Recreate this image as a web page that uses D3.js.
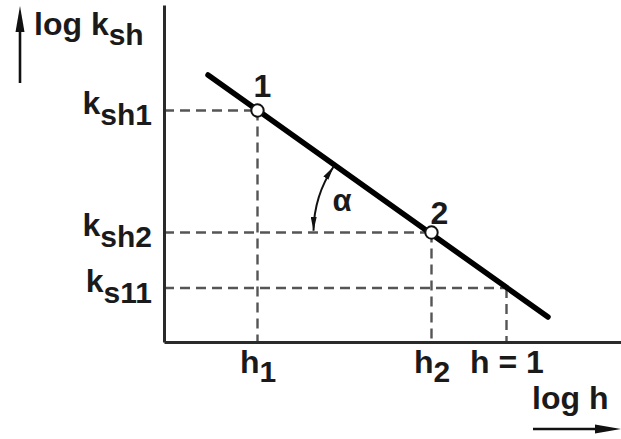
<!DOCTYPE html>
<html><head><meta charset="utf-8">
<script src="https://cdn.jsdelivr.net/npm/d3@7"></script>
<style>
html,body{margin:0;padding:0;background:#fff;}
svg{display:block;}
text{font-family:"Liberation Sans",Arial,Helvetica,sans-serif;fill:#1a1a1a;font-weight:bold;}
</style></head><body>
<svg id="chart" width="621" height="439"></svg>
<script>
// log h positions marked on the abscissa
const hTicks = [1.87, 5.35, 6.85];
const hMain = ["h", "h", "h = 1"];
const hSub = ["1", "2", ""];
// log k_sh values marked on the ordinate
const kTicks = [4.63, 2.19, 1.08];
const kMain = ["k", "k", "k"];
const kSub = ["sh1", "sh2", "s11"];
// straight line log k_sh = f(log h), end points
const lineLogH = [0.88, 7.68];
const lineLogK = [5.34, 0.50];
// measured points 1 and 2
const pointLogH = [1.87, 5.35];
const pointLogK = [4.63, 2.19];
const pointNames = ["1", "2"];
// value of the line at h = 1
const unitLogH = 6.85, unitLogK = 1.08;

const svg = d3.select("#chart");
const x = d3.scaleLinear().domain([0, 9.14]).range([164, 621]);
const y = d3.scaleLinear().domain([0, 6.74]).range([342, 5]);
const FS = 32, SFS = 30;

// dashed reference lines
const dash = svg.append("g")
  .attr("stroke", "#555").attr("stroke-width", 2.4)
  .attr("stroke-dasharray", "10,6").attr("fill", "none");
const refH = [pointLogH[0], pointLogH[1], unitLogH];
const refK = [pointLogK[0], pointLogK[1], unitLogK];
refH.forEach((h, i) => {
  dash.append("line")
    .attr("x1", x(0)).attr("x2", x(h))
    .attr("y1", y(refK[i])).attr("y2", y(refK[i]));
  dash.append("line")
    .attr("x1", x(h)).attr("x2", x(h))
    .attr("y1", y(refK[i])).attr("y2", y(0));
});

// axes
const xAxis = d3.axisBottom(x).tickValues(hTicks).tickSize(0).tickSizeOuter(0).tickFormat(() => "");
const yAxis = d3.axisLeft(y).tickValues(kTicks).tickSize(0).tickSizeOuter(0).tickFormat(() => "");
const gx = svg.append("g").attr("transform", `translate(0,${y(0)})`).call(xAxis);
const gy = svg.append("g").attr("transform", `translate(${x(0)},0)`).call(yAxis);
[gx, gy].forEach(g => {
  g.select(".domain").attr("stroke", "#2a2a2a").attr("stroke-width", 3);
  g.attr("font-family", null).attr("font-size", null);
});

gx.selectAll(".tick text").each(function(d, i) {
  const t = d3.select(this).text("")
    .attr("y", 31).attr("dy", null)
    .attr("text-anchor", "middle").style("font-size", FS + "px");
  t.append("tspan").text(hMain[i]);
  if (hSub[i]) t.append("tspan").attr("dy", 9).style("font-size", SFS + "px").text(hSub[i]);
});
gy.selectAll(".tick text").each(function(d, i) {
  const t = d3.select(this).text("")
    .attr("x", -12).attr("dy", null).attr("y", 3)
    .attr("text-anchor", "end").style("font-size", FS + "px");
  t.append("tspan").text(kMain[i]);
  t.append("tspan").attr("dy", 11).style("font-size", SFS + "px").text(kSub[i]);
});

// axis titles with arrows
const tY = svg.append("text").attr("x", 34).attr("y", 35).style("font-size", FS + "px");
tY.append("tspan").text("log k");
tY.append("tspan").attr("dy", 10).style("font-size", SFS + "px").text("sh");
svg.append("text").attr("x", 532).attr("y", 409).style("font-size", FS + "px").text("log h");

svg.append("line").attr("x1", 20).attr("x2", 20).attr("y1", 83).attr("y2", 24)
  .attr("stroke", "#111").attr("stroke-width", 2.6);
svg.append("path").attr("d", "M20,6 L24.5,32 L15.5,32 Z").attr("fill", "#111");
svg.append("line").attr("x1", 533).attr("x2", 602).attr("y1", 429).attr("y2", 429)
  .attr("stroke", "#111").attr("stroke-width", 2.6);
svg.append("path").attr("d", "M621,429 L595,424.5 L595,433.5 Z").attr("fill", "#111");

// main straight line
svg.append("line")
  .attr("x1", x(lineLogH[0])).attr("y1", y(lineLogK[0]))
  .attr("x2", x(lineLogH[1])).attr("y2", y(lineLogK[1]))
  .attr("stroke", "#000").attr("stroke-width", 5.5).attr("stroke-linecap", "round");

// angle alpha between the line and the horizontal through point 2
const defs = svg.append("defs");
defs.append("marker").attr("id", "ah")
  .attr("viewBox", "0 0 14 6").attr("refX", 14).attr("refY", 3)
  .attr("markerWidth", 14).attr("markerHeight", 6)
  .attr("markerUnits", "userSpaceOnUse").attr("orient", "auto-start-reverse")
  .append("path").attr("d", "M0,0 L14,3 L0,6 Z").attr("fill", "#111");
const cx = x(pointLogH[1]), cy = y(pointLogK[1]);
const slopeAng = Math.atan2(y(lineLogK[1]) - y(lineLogK[0]), x(lineLogH[1]) - x(lineLogH[0]));
const r = 118;
const arcPath = d3.path();
arcPath.arc(cx, cy, r, Math.PI + 0.014, Math.PI + slopeAng - 0.025, false);
svg.append("path").attr("d", arcPath.toString())
  .attr("fill", "none").attr("stroke", "#111").attr("stroke-width", 2)
  .attr("marker-start", "url(#ah)").attr("marker-end", "url(#ah)");
svg.append("text").attr("x", 342).attr("y", 211).attr("text-anchor", "middle")
  .style("font-size", "31px").text("α");

// points
svg.selectAll("circle.pt").data(pointLogH).join("circle").attr("class", "pt")
  .attr("cx", d => x(d)).attr("cy", (d, i) => y(pointLogK[i])).attr("r", 6.2)
  .attr("fill", "#fff").attr("stroke", "#111").attr("stroke-width", 2);
svg.selectAll("text.pl").data(pointNames).join("text").attr("class", "pl")
  .attr("x", (d, i) => x(pointLogH[i]) + [5, 8][i])
  .attr("y", (d, i) => y(pointLogK[i]) - [14, 9][i])
  .attr("text-anchor", "middle").style("font-size", FS + "px").text(d => d);
</script>
</body></html>
